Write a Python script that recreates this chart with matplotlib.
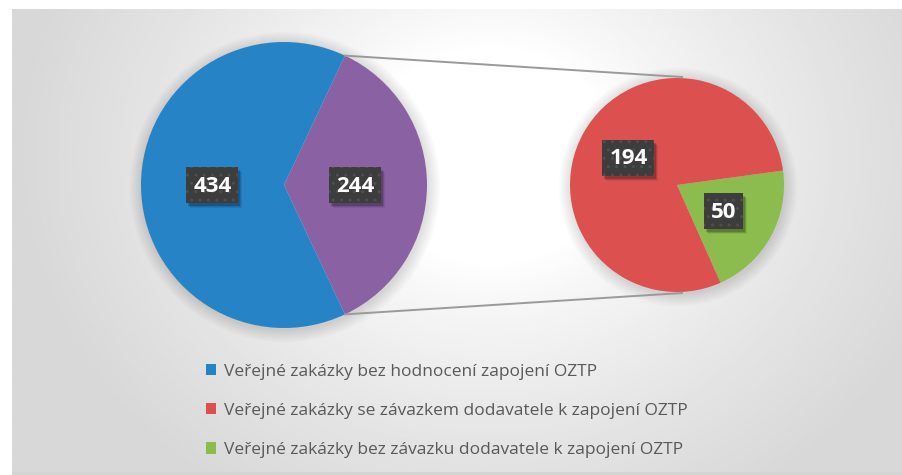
import numpy as np
import matplotlib
matplotlib.use("Agg")
import matplotlib.pyplot as plt
from matplotlib.patches import Patch, Rectangle

# data
main_labels = ["Veřejné zakázky bez hodnocení zapojení OZTP", "ostatní"]
main_values = [434, 244]
sub_labels = ["Veřejné zakázky se závazkem dodavatele k zapojení OZTP",
              "Veřejné zakázky bez závazku dodavatele k zapojení OZTP"]
sub_values = [194, 50]

col_blue = "#2683C6"
col_purple = "#8A62A4"
col_red = "#DD5050"
col_green = "#8CBB4E"

W, H = 903, 475
fig = plt.figure(figsize=(W / 100, H / 100), dpi=100)
ax = fig.add_axes([0, 0, 1, 1])
ax.set_xlim(0, W)
ax.set_ylim(0, H)
ax.axis("off")

# background panel with radial gradient
xs = np.linspace(12, W, 400)
ys = np.linspace(3, H - 9, 220)
gx, gy = np.meshgrid(xs, ys)
d = np.sqrt(((gx - 490) / 500) ** 2 + ((gy - 320) / 430) ** 2)
v = np.clip((d - 0.25) / 0.7, 0, 1) ** 0.8
img = 1.0 - v * (1.0 - 0.845)
ax.imshow(img, cmap="gray", vmin=0, vmax=1, extent=(12, W, 3, H - 9),
          origin="lower", aspect="auto", zorder=0, interpolation="bilinear")
ax.add_patch(Rectangle((12, 0), W - 12, 3, color="#d4d4d4", zorder=0, lw=0))

# pie centres and radii
c1, r1 = (284, 290), 143
c2, r2 = (677, 290), 107


def soft_shadow(c, r):
    for k in range(8):
        circ = plt.Circle((c[0] + 1, c[1] - 2), r + 1 + k * 1.6, color="black",
                          alpha=0.016, lw=0, zorder=1)
        ax.add_patch(circ)


soft_shadow(c1, r1)
soft_shadow(c2, r2)

# main pie: "other" slice centred on the right
other_frac = main_values[1] / sum(main_values)
start1 = -180 * other_frac
w1, _ = ax.pie([main_values[1], main_values[0]], colors=[col_purple, col_blue],
               startangle=start1, counterclock=True, center=c1, radius=r1,
               wedgeprops=dict(linewidth=0))
# second pie
w2, _ = ax.pie([sub_values[1], sub_values[0]], colors=[col_green, col_red],
               startangle=-66, counterclock=True, center=c2, radius=r2,
               wedgeprops=dict(linewidth=0))
for w in list(w1) + list(w2):
    w.set_zorder(2)

ax.set_xlim(0, W)
ax.set_ylim(0, H)
ax.set_aspect("equal")

# connector lines
a_top = np.deg2rad(-start1)
a_bot = np.deg2rad(start1)
p_top = (c1[0] + r1 * np.cos(a_top), c1[1] + r1 * np.sin(a_top))
p_bot = (c1[0] + r1 * np.cos(a_bot), c1[1] + r1 * np.sin(a_bot))
ax.plot([p_top[0], c2[0] + 5], [p_top[1], c2[1] + r2 + 1], color="#9a9a9a", lw=1.4, zorder=3)
ax.plot([p_bot[0], c2[0] + 5], [p_bot[1], c2[1] - r2 - 1], color="#9a9a9a", lw=1.4, zorder=3)


def label(wedge, c, r, val, frac=0.5):
    ang = np.deg2rad((wedge.theta1 + wedge.theta2) / 2)
    x = c[0] + frac * r * np.cos(ang)
    y = c[1] + frac * r * np.sin(ang)
    bw = 13 * len(str(val)) + 13
    bh = 36
    # soft shadow
    for k, a in enumerate([0.18, 0.12, 0.07]):
        ax.add_patch(Rectangle((x - bw / 2 + 2 + k, y - bh / 2 - 3 - k), bw, bh,
                               color="black", alpha=a, lw=0, zorder=4))
    ax.add_patch(Rectangle((x - bw / 2, y - bh / 2), bw, bh, facecolor="#3d3d3d",
                           edgecolor="#4f4f4f", lw=0, hatch="..", zorder=4.5))
    ax.text(x, y - 1, str(val), ha="center", va="center", color="white",
            fontsize=16, fontweight="bold", family=["Open Sans", "DejaVu Sans"], zorder=5)


label(w1[1], c1, r1, main_values[0])
label(w1[0], c1, r1, main_values[1])
label(w2[1], c2, r2, sub_values[0], 0.52)
label(w2[0], c2, r2, sub_values[1], 0.5)

# legend
handles = [Patch(facecolor=col_blue), Patch(facecolor=col_red), Patch(facecolor=col_green)]
names = [main_labels[0], sub_labels[0], sub_labels[1]]
leg = ax.legend(handles, names, loc="upper left", bbox_to_anchor=(190 / W, 1 - 348 / H),
                frameon=False, labelspacing=1.34, handlelength=0.62,
                handleheight=0.62, handletextpad=0.45, prop=dict(family="Open Sans", size=12.5))
for t in leg.get_texts():
    t.set_color("#595959")

fig.savefig("out.png", dpi=100)
